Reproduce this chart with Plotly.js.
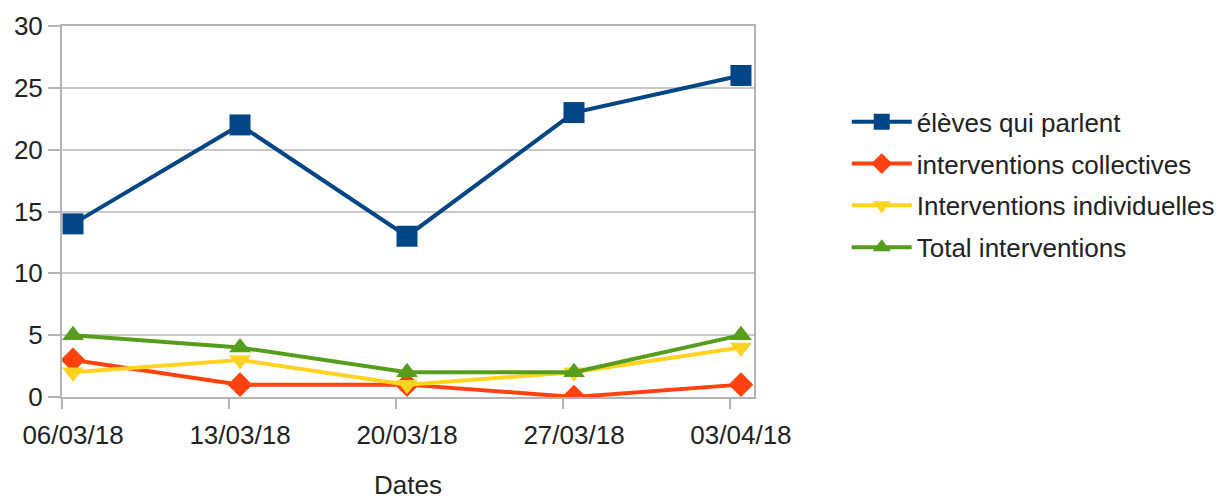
<!DOCTYPE html>
<html>
<head>
<meta charset="utf-8">
<script src="https://cdn.plot.ly/plotly-3.0.1.min.js"></script>
<style>html,body{margin:0;padding:0;background:#fff;}#chart{width:1217px;height:500px;}</style>
</head>
<body>
<div id="chart"></div>
<script>
const dates = ["06/03/18", "13/03/18", "20/03/18", "27/03/18", "03/04/18"];
const elevesQuiParlent = [14, 22, 13, 23, 26];
const interventionsCollectives = [3, 1, 1, 0, 1];
const interventionsIndividuelles = [2, 3, 1, 2, 4];
const totalInterventions = [5, 4, 2, 2, 5];
const seriesNames = ["élèves qui parlent", "interventions collectives", "Interventions individuelles", "Total interventions"];
const yTicks = [0, 5, 10, 15, 20, 25, 30];

const idx = dates.map((d, i) => i);
function tr(name, y, color, symbol, size, k) {
  return {
    x: idx, y: y, name: name, type: 'scatter', mode: 'lines+markers',
    legendgroup: 'g' + k,
    line: {color: color, width: 4},
    marker: {color: color, symbol: symbol, size: size, line: {width: 0}}
  };
}
const data = [
  tr(seriesNames[0], elevesQuiParlent, '#004586', 'square', 21, 0),
  tr(seriesNames[1], interventionsCollectives, '#ff420e', 'diamond', 19, 1),
  tr(seriesNames[2], interventionsIndividuelles, '#ffd320', 'triangle-down', 19, 2),
  tr(seriesNames[3], totalInterventions, '#579d1c', 'triangle-up', 19, 3)
];
const off = -0.066;
const layout = {
  width: 1217, height: 500,
  margin: {l: 62, r: 463, t: 26, b: 103, autoexpand: false},
  paper_bgcolor: '#fff', plot_bgcolor: '#fff',
  font: {family: 'Liberation Sans, Arial, sans-serif', size: 26, color: '#222'},
  showlegend: true,
  legend: {x: 1.134, y: 0.805, xanchor: 'left', yanchor: 'top', font: {size: 26, color: '#222'},
           bgcolor: 'rgba(0,0,0,0)', traceorder: 'grouped', tracegroupgap: 5, itemwidth: 60},
  xaxis: {
    range: [-0.066, 4.078],
    tickmode: 'array', tickvals: idx, ticktext: dates,
    ticks: '', showgrid: false, zeroline: false, ticklabelstandoff: 14,
    showline: true, mirror: true, linecolor: '#b3b3b3', linewidth: 2,
    minor: {tickmode: 'array', tickvals: idx.map(i => i + off), ticks: 'outside', ticklen: 10, tickcolor: '#b3b3b3', tickwidth: 2, showgrid: false},
    title: {text: 'Dates', font: {size: 26, color: '#222'}, standoff: 35}
  },
  yaxis: {
    range: [0, 30], tickmode: 'array', tickvals: yTicks,
    ticks: 'outside', ticklen: 12, tickcolor: '#b3b3b3', tickwidth: 2,
    showgrid: true, gridcolor: '#c8c8c8', gridwidth: 2,
    zeroline: false, showline: true, mirror: true, linecolor: '#b3b3b3', linewidth: 2
  }
};
Plotly.newPlot('chart', data, layout, {displayModeBar: false});
</script>
</body>
</html>
